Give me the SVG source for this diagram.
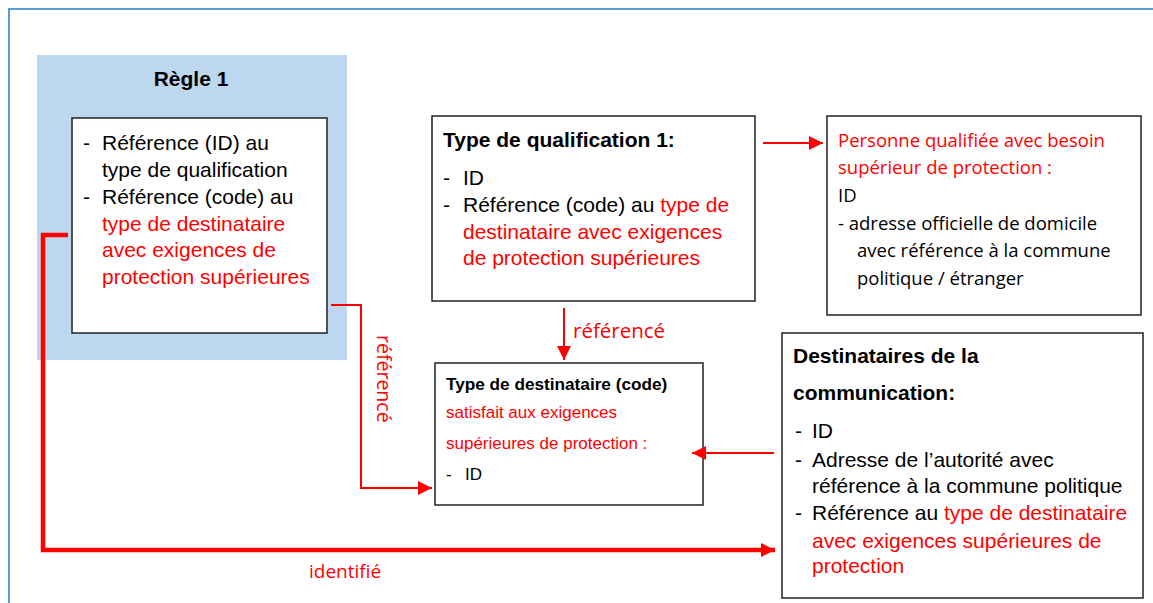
<svg xmlns="http://www.w3.org/2000/svg" width="1153" height="603" viewBox="0 0 1153 603">
<defs>
<style>
.box{fill:#fff;stroke:#222;stroke-width:1.5}
.a{font-family:"Liberation Sans",Arial,sans-serif;font-size:21px;fill:#000}
.b{font-family:"Liberation Sans",Arial,sans-serif;font-size:21px;font-weight:bold;fill:#000}
.s{font-family:"Liberation Sans",Arial,sans-serif;font-size:17px;fill:#000}
.sb{font-family:"Liberation Sans",Arial,sans-serif;font-size:17.2px;font-weight:bold;fill:#000}
.c{font-family:"Open Sans","Noto Sans",sans-serif;font-size:18.5px;fill:#000}
.r{fill:#ff0000}
.ln{fill:none;stroke:#ff0000;stroke-width:2}
.thick{fill:none;stroke:#ff0000;stroke-width:4.5}
</style>
<marker id="ah" markerUnits="userSpaceOnUse" markerWidth="15" markerHeight="14" refX="14" refY="7" orient="auto">
<path d="M0,0 L14,7 L0,14 z" fill="#ff0000"/>
</marker>
<marker id="ahb" markerUnits="userSpaceOnUse" markerWidth="15" markerHeight="14" refX="14" refY="7" orient="auto">
<path d="M0,0 L14,7 L0,14 z" fill="#ff0000"/>
</marker>
</defs>
<rect x="0" y="0" width="1153" height="603" fill="#fff"/>
<path d="M9,610 V9 H1160" fill="none" stroke="#5b9bd5" stroke-width="2"/>

<g id="regle">
<rect x="37" y="55" width="310" height="305" fill="#bdd7ee"/>
<text class="b" x="191" y="86" text-anchor="middle">Règle 1</text>
<rect class="box" x="72" y="118" width="255" height="215"/>
<text class="a" x="83" y="150">-</text>
<text class="a" x="102" y="150">Référence (ID) au</text>
<text class="a" x="102" y="177">type de qualification</text>
<text class="a" x="83" y="204">-</text>
<text class="a" x="102" y="204">Référence (code) au</text>
<text class="a r" x="102" y="231">type de destinataire</text>
<text class="a r" x="102" y="257">avec exigences de</text>
<text class="a r" x="102" y="284">protection supérieures</text>
</g>

<g id="typequal">
<rect class="box" x="432" y="116" width="323" height="185"/>
<text class="b" x="443" y="147">Type de qualification 1:</text>
<text class="a" x="443" y="185">-</text>
<text class="a" x="463" y="185">ID</text>
<text class="a" x="443" y="212">-</text>
<text class="a" x="463" y="212">Référence (code) au <tspan class="r">type de</tspan></text>
<text class="a r" x="463" y="239">destinataire avec exigences</text>
<text class="a r" x="463" y="265">de protection supérieures</text>
</g>

<g id="personne">
<rect class="box" x="827" y="116" width="314" height="199"/>
<text class="c r" x="838" y="147">Personne qualifiée avec besoin</text>
<text class="c r" x="838" y="174">supérieur de protection :</text>
<text class="c" x="838" y="202">ID</text>
<text class="c" x="838" y="230">- adresse officielle de domicile</text>
<text class="c" x="857" y="257">avec référence à la commune</text>
<text class="c" x="857" y="285">politique / étranger</text>
</g>

<g id="typedest">
<rect class="box" x="435" y="363" width="268" height="142"/>
<text class="sb" x="446" y="390">Type de destinataire (code)</text>
<text class="s r" x="446" y="418">satisfait aux exigences</text>
<text class="s r" x="446" y="449">supérieures de protection :</text>
<text class="s" x="446" y="480">-</text>
<text class="s" x="465" y="480">ID</text>
</g>

<g id="destinataires">
<rect class="box" x="782" y="333" width="361" height="265"/>
<text class="b" x="793" y="363">Destinataires de la</text>
<text class="b" x="793" y="400">communication:</text>
<text class="a" x="795" y="438">-</text>
<text class="a" x="812" y="438">ID</text>
<text class="a" x="795" y="467">-</text>
<text class="a" x="812" y="467">Adresse de l’autorité avec</text>
<text class="a" x="812" y="493">référence à la commune politique</text>
<text class="a" x="795" y="520">-</text>
<text class="a" x="812" y="520">Référence au <tspan class="r">type de destinataire</tspan></text>
<text class="a r" x="812" y="548">avec exigences supérieures de</text>
<text class="a r" x="812" y="573">protection</text>
</g>

<g id="connectors">
<path class="ln" d="M763,143 H823" marker-end="url(#ah)"/>
<path class="ln" d="M564,308 V360" marker-end="url(#ah)"/>
<text class="c r" x="573" y="338" style="font-size:20.5px">référencé</text>
<path class="ln" d="M774,453 H692" marker-end="url(#ah)"/>
<path class="ln" d="M331,305 H361 V488 H432" marker-end="url(#ah)"/>
<text class="c r" transform="translate(377,335) rotate(90)" style="font-size:19.5px">référencé</text>
<path class="thick" d="M68,235 H43 V550 H775" marker-end="url(#ahb)"/>
<text class="c r" x="309" y="578" style="font-size:19px">identifié</text>
</g>
</svg>
